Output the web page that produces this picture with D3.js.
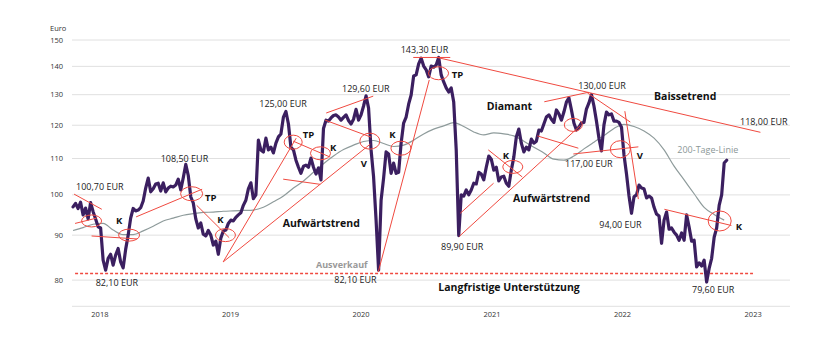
<!DOCTYPE html>
<html><head><meta charset="utf-8">
<script src="https://cdn.jsdelivr.net/npm/d3@7"></script>
<style>
html,body{margin:0;padding:0;background:#fff;}
svg{display:block;font-family:"Open Sans",sans-serif;}
</style></head><body><svg id="c" width="840" height="341"></svg>
<script>
// ---------- DATA ----------
const startDate = "2017-10-18";           // first weekly close
const yTicks = [80, 90, 100, 110, 120, 130, 140, 150];
const yearTicks = ["2018", "2019", "2020", "2021", "2022", "2023"];
// weekly closing prices (EUR)
const prices = [
96.9,97.8,96.5,98.1,94.9,96.6,93.9,98.0,95.7,93.9,
92.0,91.7,84.3,82.1,84.7,85.6,83.2,85.4,86.9,83.9,
82.6,86.7,90.0,94.1,96.5,95.9,96.1,96.7,98.4,101.8,
104.5,100.8,101.6,102.9,103.1,101.0,103.2,100.8,101.8,102.3,
102.1,102.6,104.2,101.3,104.6,108.3,105.2,99.5,97.9,93.9,
91.7,92.9,90.2,89.8,91.1,90.0,87.7,88.6,85.6,89.3,
91.0,91.2,92.8,93.6,93.4,94.3,94.9,95.4,97.3,98.6,
101.6,103.2,99.0,100.0,115.4,112.5,111.9,116.0,112.5,113.3,
111.6,114.5,116.4,117.3,122.6,124.4,120.4,113.2,112.5,109.5,
107.5,105.8,107.8,108.1,107.5,110.1,107.5,105.6,107.3,104.0,
119.0,121.6,121.3,122.3,123.1,123.3,122.6,121.6,122.5,123.3,
121.5,120.4,121.9,125.1,121.6,123.3,126.2,129.6,125.5,112.5,
104.8,93.6,82.1,98.6,104.5,111.9,111.3,105.8,108.7,105.8,
106.1,114.5,120.7,122.6,126.8,129.9,136.5,136.9,140.9,143.0,
140.1,138.7,136.2,140.1,139.7,140.5,143.3,136.9,134.4,132.3,
130.9,132.3,127.5,112.5,89.9,100.0,99.7,101.3,100.0,101.3,
103.1,102.9,106.1,105.6,104.0,107.5,110.7,109.8,106.7,107.5,
103.7,104.8,105.0,103.1,102.3,106.7,110.4,116.4,118.8,114.5,
111.9,113.3,112.5,115.7,114.5,115.1,118.5,118.2,120.4,122.6,
123.3,121.9,120.9,124.9,123.6,121.6,124.2,127.5,128.9,124.9,
120.7,118.5,119.4,120.7,120.9,125.2,127.2,130.0,126.2,121.3,
116.0,112.2,120.1,124.2,123.3,123.6,121.3,121.3,120.9,119.4,
111.0,105.6,99.7,95.3,99.5,100.0,102.6,101.8,101.6,99.2,
99.7,99.2,96.8,95.1,94.6,88.1,93.6,95.6,91.4,91.7,
90.7,90.0,88.8,90.5,88.8,94.9,91.9,88.6,88.8,82.8,
83.7,83.0,84.3,79.6,82.5,84.7,89.5,91.7,97.3,100.0,
108.7,109.5
];
// 200-day moving average, sampled every 4 weeks from startDate
const ma200 = [
91.1,91.8,92.6,92.8,91.2,90.1,90.1,91.0,92.1,93.4,
94.1,94.8,95.2,95.5,95.6,95.8,95.9,96.0,96.1,96.8,
98.2,99.7,101.8,103.7,106.1,108.5,110.7,112.6,113.9,115.0,
115.3,114.4,113.5,113.9,115.4,117.3,118.8,119.8,120.8,119.6,
117.9,117.0,117.6,117.3,116.7,115.1,113.3,111.6,109.8,109.5,
110.7,112.8,114.8,116.8,119.0,120.3,119.6,118.2,116.0,112.5,
107.8,104.0,100.3,96.8,95.0,93.6
];
const supportLevel = 81.4;
// trend lines: [week from start, price, week from start, price]
const trendLines = [
  [0.40,100.2, 11.47,96.3],
  [0.80,92.8, 9.39,94.1],
  [7.39,89.8, 25.57,89.1],
  [25.17,94.4, 51.54,101.5],
  [49.36,97.3, 62.33,89.4],
  [59.93,83.9, 89.09,116.0],
  [59.93,83.9, 118.66,114.2],
  [87.9,115.1, 102.68,110.4],
  [83.9,104.2, 98.68,102.8],
  [101.08,123.9, 119.86,129.5],
  [100.68,121.6, 119.06,116.3],
  [121.85,81.7, 142.23,135.1],
  [135.84,143.3, 150.62,143.3],
  [145.43,143.3, 274.47,117.8],
  [154.61,95.3, 167.92,103.1],
  [154.21,89.7, 202.56,119.9],
  [165.8,112.5, 179.38,104.8],
  [188.17,127.6, 205.75,130.8],
  [205.35,130.6, 222.53,121.0],
  [199.76,111.3, 225.73,113.4],
  [185.38,116.7, 201.76,113.0],
  [220.34,124.5, 225.73,98.9],
  [236.12,96.3, 262.88,92.3]
];
// marked spots: [week from start, price]
const spots = [
  [7.39,93.4],[22.37,90.0],[47.34,100.3],[60.85,90.0],[87.9,114.8],
  [98.8,111.5],[118.5,115.1],[130.92,113.0],[145.95,137.5],[175.59,107.6],
  [199.76,120.1],[218.54,112.7],[258.21,93.4]
];
const spotSize = [[10,6],[10.5,6],[11,7],[10,6.5],[9,7],[10,6.5],[10,8],[10,7],[10,6.5],[10,6.5],[9,6.5],[10,8.5],[11.5,10]];

const priceLabels = [
  ["100,70 EUR",76,190],["82,10 EUR",95.7,286],["108,50 EUR",160.7,161.7],
  ["125,00 EUR",259.3,106.7],["129,60 EUR",342,92],["143,30 EUR",400.7,52.7],
  ["82,10 EUR",334.3,282.7],["89,90 EUR",441,250],["130,00 EUR",578.3,89],
  ["117,00 EUR",565,166.7],["118,00 EUR",740,124.5],["94,00 EUR",599.3,228.3],
  ["79,60 EUR",692,292.7]
];
const signalLabels = [
  ["K",116,224.3],["TP",205,200.7],["K",217.3,223.3],["TP",302.7,138.3],
  ["K",330,150.7],["V",360.7,166.7],["K",389.3,138.3],["TP",451.7,78.3],
  ["K",502.7,159],["V",636.7,159],["K",735.7,230]
];
const patternLabels = [
  ["Aufwärtstrend",282.7,226.7],["Diamant",486.7,110],["Aufwärtstrend",513,201.7],
  ["Langfristige Unterstützung",438.3,290.7],["Baissetrend",654,100]
];

// ---------- CHART ----------
const svg = d3.select("#c");
const parse = d3.timeParse("%Y-%m-%d");
const t0 = parse(startDate);
const weekDate = w => new Date(t0.getTime() + w * 7 * 864e5);

const x = d3.scaleTime().domain([parse("2017-10-15"), parse("2023-04-14")]).range([72, 790]);
const y = d3.scaleLog().domain([74.7, 150]).range([306.3, 40]);

const RED = "#f04a40";

// grid
const g = svg.append("g");
g.selectAll("line.grid").data(yTicks.concat([y.domain()[0]])).join("line")
  .attr("x1", x.range()[0]).attr("x2", x.range()[1])
  .attr("y1", d => y(d)).attr("y2", d => y(d))
  .attr("stroke", "#e0e0e0").attr("stroke-width", 1);

g.selectAll("text.yt").data(yTicks).join("text")
  .attr("x", 63).attr("y", d => y(d) + 2.6)
  .attr("text-anchor", "end").attr("font-size", 7.5).attr("fill", "#333")
  .text(d => d);
svg.append("text").attr("x", 50).attr("y", 30.5).attr("font-size", 7.5).attr("fill", "#333").text("Euro");

g.selectAll("text.xt").data(yearTicks).join("text")
  .attr("x", d => x(parse(d + "-01-01"))).attr("y", 316.7)
  .attr("text-anchor", "middle").attr("font-size", 7.5).attr("fill", "#333")
  .text(d => d);

// support dashed line
svg.append("line")
  .attr("x1", x(weekDate(0.8))).attr("x2", x(weekDate(271.5)))
  .attr("y1", y(supportLevel)).attr("y2", y(supportLevel))
  .attr("stroke", RED).attr("stroke-width", 1.4).attr("stroke-dasharray", "3,2");

// 200-day line
const maLine = d3.line().x((d, i) => x(weekDate(i * 4))).y(d => y(d)).curve(d3.curveMonotoneX);
svg.append("path").attr("d", maLine(ma200)).attr("fill", "none")
  .attr("stroke", "#8e9b9b").attr("stroke-width", 1.2);

// price
const pLine = d3.line().x((d, i) => x(weekDate(i))).y(d => y(d));
svg.append("path").attr("d", pLine(prices)).attr("fill", "none")
  .attr("stroke", "#3b1f60").attr("stroke-width", 3.2).attr("stroke-linejoin", "round").attr("stroke-linecap", "round");

// annotations
svg.selectAll("line.tl").data(trendLines).join("line")
  .attr("x1", d => x(weekDate(d[0]))).attr("y1", d => y(d[1]))
  .attr("x2", d => x(weekDate(d[2]))).attr("y2", d => y(d[3]))
  .attr("stroke", RED).attr("stroke-width", 1);

svg.selectAll("ellipse").data(spots).join("ellipse")
  .attr("cx", d => x(weekDate(d[0]))).attr("cy", d => y(d[1]))
  .attr("rx", (d, i) => spotSize[i][0]).attr("ry", (d, i) => spotSize[i][1])
  .attr("fill", "none").attr("stroke", RED).attr("stroke-width", 1);

// texts
svg.selectAll("text.pl").data(priceLabels).join("text")
  .attr("x", d => d[1]).attr("y", d => d[2]).attr("font-size", 9).attr("fill", "#222").text(d => d[0]);
svg.selectAll("text.sl").data(signalLabels).join("text")
  .attr("x", d => d[1]).attr("y", d => d[2]).attr("font-size", 9.5).attr("font-weight", 700).attr("fill", "#111").text(d => d[0]);
svg.selectAll("text.ptl").data(patternLabels).join("text")
  .attr("x", d => d[1]).attr("y", d => d[2]).attr("font-size", 10.5).attr("font-weight", 700).attr("fill", "#111").text(d => d[0]);
svg.append("text").attr("x", 316).attr("y", 267.7).attr("font-size", 9).attr("font-weight", 700).attr("fill", "#999").text("Ausverkauf");
svg.append("text").attr("x", 677.3).attr("y", 153.3).attr("font-size", 9).attr("fill", "#8b9797").text("200-Tage-Linie");
</script></body></html>
